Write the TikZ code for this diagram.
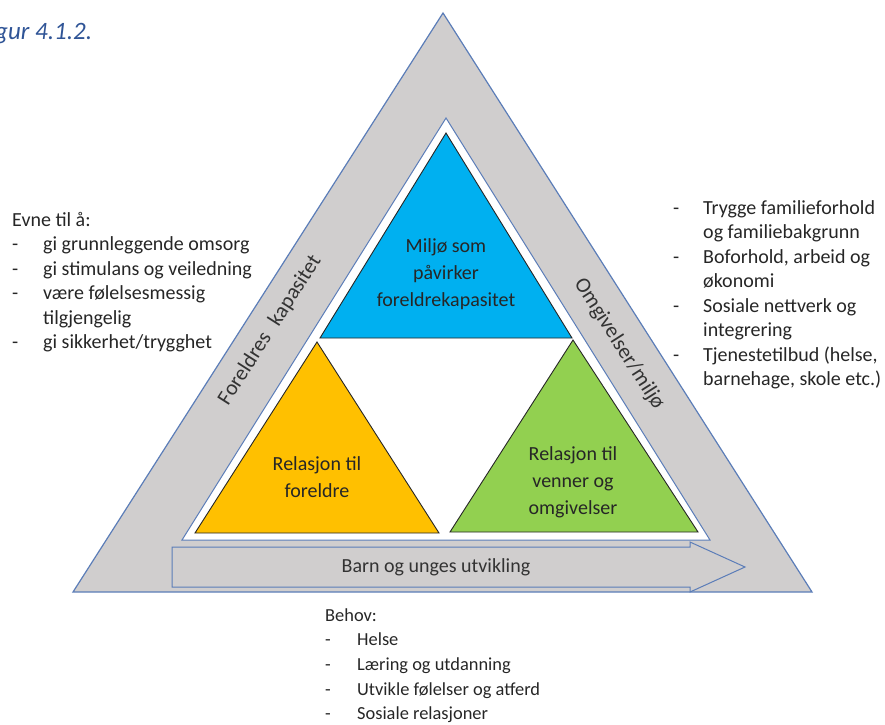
\documentclass[tikz,border=0pt]{standalone}
\usepackage{fontspec}
\setmainfont{Carlito}
\definecolor{bandgray}{HTML}{D0CECE}
\definecolor{edgeblue}{HTML}{5B7DB8}
\definecolor{skyfill}{HTML}{00B0F0}
\definecolor{amberfill}{HTML}{FFC000}
\definecolor{limefill}{HTML}{92D050}
\definecolor{captionblue}{HTML}{2F5496}
\tikzset{
	tri/.style={draw=black!85,line width=0.9pt,line join=miter},
	tritext/.style={align=center,inner sep=0pt,font=\fontsize{20}{27}\selectfont,text=black!85},
	bandtext/.style={inner sep=0pt,font=\fontsize{20}{24}\selectfont,text=black!80},
	listtext/.style={inner sep=0pt,anchor=base west,font=\fontsize{20}{24.5}\selectfont,text=black!85},
}
\begin{document}
\begin{tikzpicture}[x=1pt,y=-1pt]
			\useasboundingbox (0,0) rectangle (885,724);
			\draw[edgeblue,fill=bandgray,line width=1.2pt](443,13)--(73,592)--(812,592)--cycle;
			\draw[edgeblue,fill=white,line width=1pt](446,118)--(182,540)--(710,540)--cycle;
			\draw[tri,fill=skyfill](446,133)--(320,338)--(572,338)--cycle;
			\draw[tri,fill=amberfill](317,342)--(195,533)--(439,533)--cycle;
			\draw[tri,fill=limefill](573,340)--(450,532)--(698,532)--cycle;
			\draw[edgeblue,fill=bandgray,line width=1pt]
			(172,547)--(690,547)--(690,542)--(745,567)--(690,592)--(690,587)--(172,587)--cycle;
			\node[anchor=west,inner sep=0pt,text=captionblue,font=\fontsize{25}{30}\selectfont\itshape] (caption) at (-5,34) {gur 4.1.2.};
			\node[tritext] (environment) at (446,274) {Miljø som\\påvirker\\foreldrekapasitet};
			\node[tritext] (parents) at (317,477) {Relasjon til\\foreldre};
			\node[tritext] (friends) at (573,482) {Relasjon til\\venner og\\omgivelser};
			\node[bandtext] (development) at (436,567) {Barn og unges utvikling};
			\node[bandtext,font=\fontsize{21.5}{24}\selectfont,rotate=57.4] (capacity) at (270,330) {Foreldres\hspace{0.35em} kapasitet};
			\node[bandtext,font=\fontsize{21.5}{24}\selectfont,rotate=-57.4] (surroundings) at (619,344) {Omgivelser/miljø};
			\node[listtext] (abilities) at (12,226) {\begin{tabular}[t]{@{}p{31pt}@{}l@{}}
				\multicolumn{2}{@{}l@{}}{Evne til å:}\\
				-&gi grunnleggende omsorg\\
				-&gi stimulans og veiledning\\
				-&være følelsesmessig\\
				&tilgjengelig\\
				-&gi sikkerhet/trygghet
			\end{tabular}};
			\node[listtext] (conditions) at (673,214) {\begin{tabular}[t]{@{}p{30pt}@{}l@{}}
				-&Trygge familieforhold\\
				&og familiebakgrunn\\
				-&Boforhold, arbeid og\\
				&økonomi\\
				-&Sosiale nettverk og\\
				&integrering\\
				-&Tjenestetilbud (helse,\\
				&barnehage, skole etc.)
			\end{tabular}};
			\node[listtext,font=\fontsize{18.4}{24.7}\selectfont] (needs) at (325,621) {\begin{tabular}[t]{@{}p{32pt}@{}l@{}}
				\multicolumn{2}{@{}l@{}}{Behov:}\\
				-&Helse\\
				-&Læring og utdanning\\
				-&Utvikle følelser og atferd\\
				-&Sosiale relasjoner
			\end{tabular}};
		\end{tikzpicture}
\end{document}
